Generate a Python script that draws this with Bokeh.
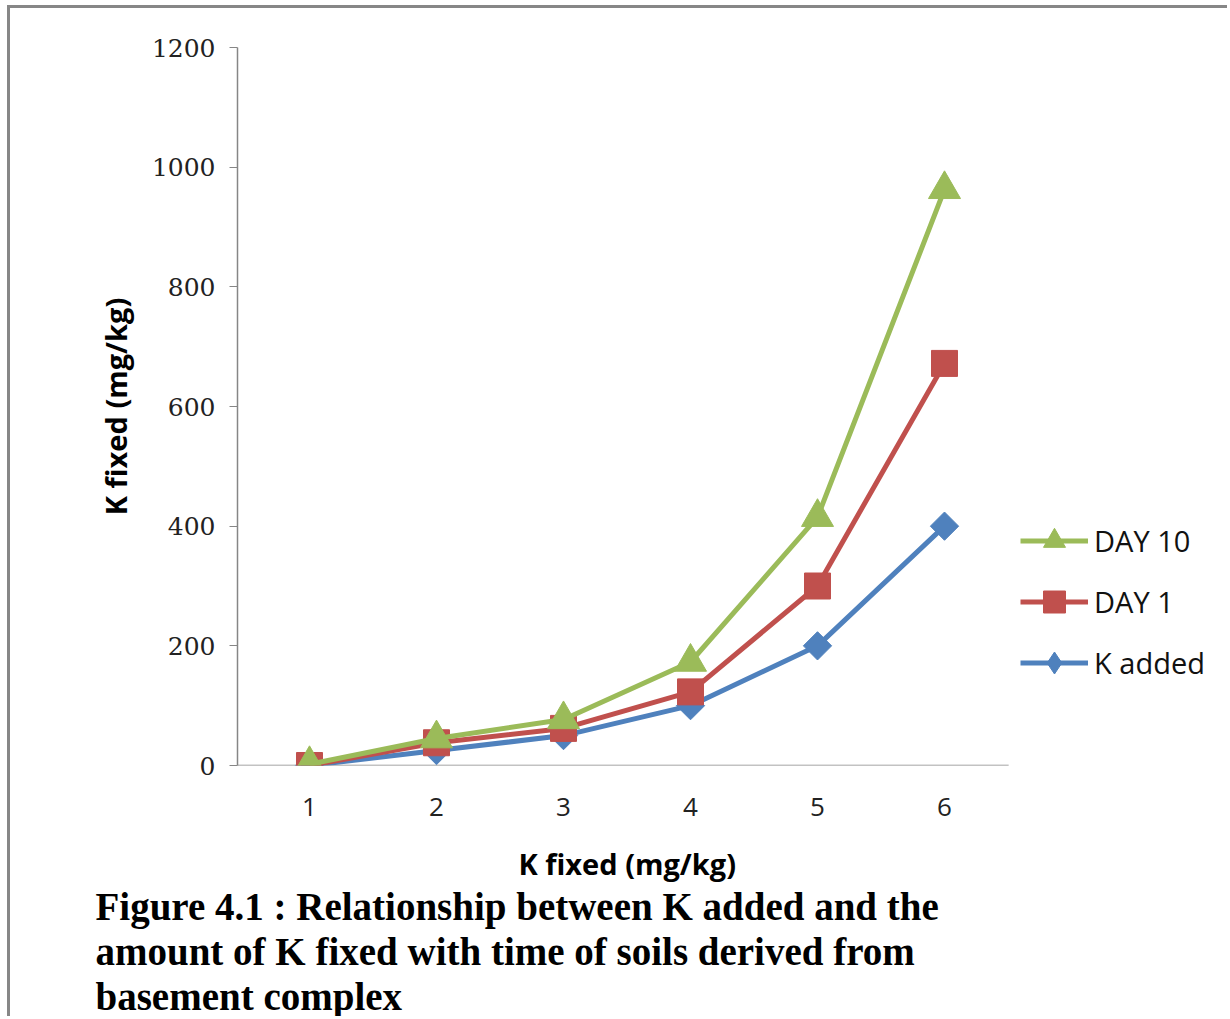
from bokeh.plotting import figure
from bokeh.models import Range1d, FixedTicker, Legend, LegendItem, Title
from bokeh.embed import file_html
from bokeh.resources import INLINE
import math

# ---- data ----
x_cats = [1, 2, 3, 4, 5, 6]
k_added = [0, 25, 50, 100, 200, 400]
day1 = [0, 38, 62, 123, 300, 672]
day10 = [2, 45, 77, 173, 415, 963]
y_ticks = [0, 200, 400, 600, 800, 1000, 1200]
series_names = ["DAY 10", "DAY 1", "K added"]
caption_lines = [
    "Figure 4.1 : Relationship between K added and the",
    "amount of K fixed with time of soils derived from",
    "basement complex",
]
x_title = "K fixed (mg/kg)"
y_title = "K fixed (mg/kg)"

GREEN = "#9BBB59"
RED = "#C0504D"
BLUE = "#4F81BD"
GRAY = "#868686"

# category axis spans [x_lo, x_hi]; the frame extends further right to hold the legend
x_lo, x_hi = 0.433, 6.505
W, H = 1220, 1011
frame_px = W - 227
px_per_cat = 127.0
p = figure(width=W, height=H, output_backend="svg", toolbar_location=None,
           x_range=Range1d(x_lo, x_lo + frame_px / px_per_cat), y_range=Range1d(0, 1200),
           min_border_left=227, min_border_right=0,
           min_border_top=39, min_border_bottom=254)
p.styles = {"margin-left": "7px", "margin-top": "5px",
            "border-left": "3px solid #878787", "border-top": "3px solid #878787"}
p.outline_line_color = None
p.grid.visible = False
p.background_fill_color = "white"
p.border_fill_color = "white"

# axes
p.xaxis.ticker = FixedTicker(ticks=x_cats)
p.yaxis.ticker = FixedTicker(ticks=y_ticks)
p.xaxis.minor_tick_line_color = None
p.yaxis.minor_tick_line_color = None
p.xaxis.major_tick_line_color = None
p.xaxis.axis_line_color = None
p.yaxis.axis_line_color = GRAY
p.yaxis.axis_line_width = 1.5
p.yaxis.major_tick_line_color = GRAY
p.yaxis.major_tick_out = 8
p.yaxis.major_tick_in = 0
p.xaxis.major_label_standoff = 26
p.yaxis.major_label_standoff = 14
p.xaxis.major_label_text_font = "Open Sans"
p.xaxis.major_label_text_font_size = "26px"
p.xaxis.major_label_text_color = "#222222"
# blank spacer label under the x tick labels (the visible x title is a Title below)
p.xaxis.axis_label = " "
p.xaxis.axis_label_text_font_size = "12px"
p.xaxis.axis_label_standoff = 6
p.yaxis.major_label_text_font = "DejaVu Serif"
p.yaxis.major_label_text_font_size = "25px"
p.yaxis.major_label_text_color = "#222222"
p.yaxis.axis_label = y_title
p.yaxis.axis_label_text_font = "Open Sans"
p.yaxis.axis_label_text_font_style = "bold"
p.yaxis.axis_label_text_font_size = "29px"
p.yaxis.axis_label_text_color = "black"
p.yaxis.axis_label_standoff = 14

# horizontal category-axis line, limited to the category span
p.segment(x0=[x_lo], y0=[0], x1=[x_hi], y1=[0], line_color=GRAY, line_width=1.5)

# series (blue drawn first, green on top)
lk = p.line(x_cats, k_added, line_color=BLUE, line_width=5)
mk_leg = p.scatter(x_cats, k_added, marker="diamond", size=24,
                   fill_color=BLUE, line_color=BLUE)
mk = p.scatter(x_cats, k_added, marker="square", angle=math.pi / 4, size=20,
               fill_color=BLUE, line_color=BLUE)
l1 = p.line(x_cats, day1, line_color=RED, line_width=5)
m1 = p.scatter(x_cats, day1, marker="square", size=26, fill_color=RED, line_color=RED)
l10 = p.line(x_cats, day10, line_color=GREEN, line_width=5)
m10 = p.scatter(x_cats, day10, marker="triangle", size=32, fill_color=GREEN, line_color=GREEN)

legend = Legend(items=[
    LegendItem(label=series_names[0], renderers=[l10, m10]),
    LegendItem(label=series_names[1], renderers=[l1, m1]),
    LegendItem(label=series_names[2], renderers=[lk, mk_leg]),
], location=(783, 75), orientation="vertical")
legend.glyph_width = 68
legend.glyph_height = 55
legend.label_height = 55
legend.spacing = 6
legend.padding = 0
legend.margin = 0
legend.label_standoff = 6
legend.border_line_color = None
legend.background_fill_alpha = 0
legend.label_text_font = "Open Sans"
legend.label_text_font_size = "29px"
legend.label_text_color = "#111111"
p.add_layout(legend, "center")

# x-axis title (centred under the category span) and caption, stacked below
p.add_layout(Title(text=x_title, align="left", offset=281, standoff=0,
                   text_font="Open Sans", text_font_style="bold",
                   text_font_size="29px", text_color="black"), "below")
for i, line in enumerate(caption_lines):
    p.add_layout(Title(text=line, align="left", offset=-142, standoff=0,
                       text_font="Liberation Serif", text_font_style="bold",
                       text_font_size="39px", text_color="black"), "below")

open("out.html", "w").write(file_html(p, INLINE))
